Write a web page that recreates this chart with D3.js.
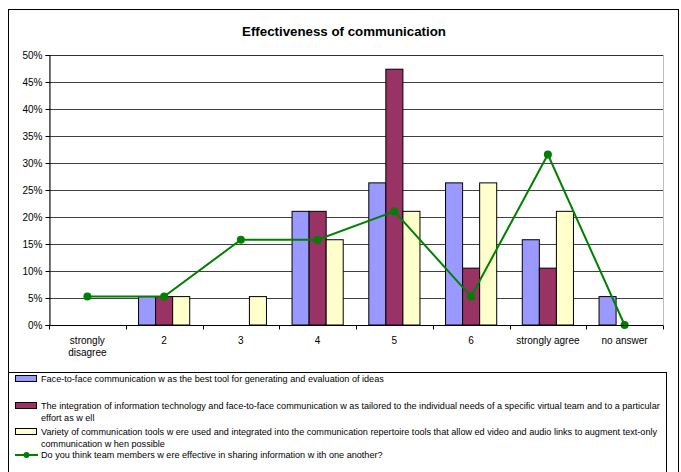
<!DOCTYPE html>
<html>
<head>
<meta charset="utf-8">
<script src="https://cdn.jsdelivr.net/npm/d3@7"></script>
<style>
  body { margin: 0; background: #fff; }
  text { font-family: Arial, "Liberation Sans", sans-serif; fill: #000; }
</style>
</head>
<body>
<div id="chart"></div>
<script>
// categories on the x axis (label lines)
var categories = ["strongly disagree", "2", "3", "4", "5", "6", "strongly agree", "no answer"];
var categoryLines = [["strongly", "disagree"], ["2"], ["3"], ["4"], ["5"], ["6"], ["strongly agree"], ["no answer"]];

// bar series (percent)
var faceToFace = [0, 5.26, 0, 21.05, 26.32, 26.32, 15.79, 5.26];
var integration = [0, 5.26, 0, 21.05, 47.37, 10.53, 10.53, 0];
var variety = [0, 5.26, 5.26, 15.79, 21.05, 26.32, 21.05, 0];
// line series (percent)
var effective = [5.26, 5.26, 15.79, 15.79, 21.05, 5.26, 31.58, 0];

var yTicks = [0, 5, 10, 15, 20, 25, 30, 35, 40, 45, 50];

var legendLines = [
  ["Face-to-face communication w as the best tool for generating and evaluation of ideas"],
  ["The integration of information technology and face-to-face communication w as tailored to the individual needs of a specific virtual team and to a particular",
   "effort as w ell"],
  ["Variety of communication tools w ere used and integrated into the communication repertoire tools that allow ed video and audio links to augment text-only",
   "communication w hen possible"],
  ["Do you think team members w ere effective in sharing information w ith one another?"]
];

var barColors = ["#9999ff", "#993366", "#ffffcc"];
var lineColor = "#008000";

var W = 681, H = 472;
var margin = {top: 55, left: 49, right: 18, bottom: 147};
var width = W - margin.left - margin.right,
  height = H - margin.top - margin.bottom;

var svg = d3.select("#chart").append("svg")
  .attr("width", W)
  .attr("height", H);

// outer chart border
svg.append("rect")
  .attr("x", 8.5).attr("y", 9.5)
  .attr("width", 670).attr("height", 480)
  .attr("fill", "none").attr("stroke", "#000").attr("stroke-width", 1);

// title
svg.append("text")
  .attr("x", 344).attr("y", 36)
  .attr("text-anchor", "middle")
  .style("font-size", "13.3px").style("font-weight", "bold")
  .text("Effectiveness of communication");

var g = svg.append("g")
  .attr("transform", "translate(" + margin.left + "," + margin.top + ")");

var xScale = d3.scaleBand().domain(categories).range([0, width]).paddingInner(0).paddingOuter(0);
var series = [faceToFace, integration, variety];
var xSub = d3.scaleBand().domain(d3.range(series.length)).range([0, xScale.bandwidth()])
  .paddingInner(0).paddingOuter(0.75);
var yScale = d3.scaleLinear().domain([0, 50]).range([height, 0]);

// plot area border (right/top gray)
g.append("rect")
  .attr("x", 0.5).attr("y", 0.5)
  .attr("width", width).attr("height", height)
  .attr("fill", "none").attr("stroke", "#c0c0c0");

// gridlines
g.append("g").selectAll("line")
  .data(yTicks.slice(1))
  .enter().append("line")
  .attr("x1", 0).attr("x2", width)
  .attr("y1", function(d) { return Math.round(yScale(d)) + 0.5; })
  .attr("y2", function(d) { return Math.round(yScale(d)) + 0.5; })
  .attr("stroke", "#000").attr("stroke-width", 1).attr("stroke-opacity", 0.75);

// bars
series.forEach(function(vals, s) {
  g.append("g").selectAll("rect")
    .data(vals)
    .enter().append("rect")
    .attr("x", function(d, i) { return xScale(categories[i]) + xSub(s); })
    .attr("y", function(d) { return yScale(d); })
    .attr("width", xSub.bandwidth())
    .attr("height", function(d) { return height - yScale(d); })
    .attr("fill", barColors[s])
    .attr("stroke", function(d) { return d > 0 ? "#000" : "none"; })
    .attr("stroke-width", 1);
});

// line series
var line = d3.line()
  .x(function(d, i) { return xScale(categories[i]) + xScale.bandwidth() / 2; })
  .y(function(d) { return yScale(d); });

g.append("path")
  .datum(effective)
  .attr("d", line)
  .attr("fill", "none")
  .attr("stroke", lineColor)
  .attr("stroke-width", 2);

g.selectAll(".dot")
  .data(effective)
  .enter().append("circle")
  .attr("class", "dot")
  .attr("cx", function(d, i) { return xScale(categories[i]) + xScale.bandwidth() / 2; })
  .attr("cy", function(d) { return yScale(d); })
  .attr("r", 4)
  .attr("fill", lineColor);

// y axis
var yAxis = g.append("g")
  .attr("transform", "translate(0.5,0)")
  .call(d3.axisLeft(yScale).tickValues(yTicks).tickSize(4).tickPadding(3)
    .tickFormat(function(d) { return d + "%"; }));
yAxis.selectAll("text").style("font-size", "10px").style("font-family", "Arial, 'Liberation Sans', sans-serif");
yAxis.select(".domain").attr("stroke", "#000");

// x axis
var xAxis = g.append("g")
  .attr("transform", "translate(0," + (height + 0.5) + ")");
xAxis.append("line")
  .attr("x1", 0).attr("x2", width)
  .attr("stroke", "#000");
xAxis.selectAll(".tick")
  .data(d3.range(categories.length + 1))
  .enter().append("line")
  .attr("x1", function(i) { return Math.round(i * xScale.step()) + 0.5; })
  .attr("x2", function(i) { return Math.round(i * xScale.step()) + 0.5; })
  .attr("y1", 0).attr("y2", 4)
  .attr("stroke", "#000");
categoryLines.forEach(function(lines, i) {
  var t = xAxis.append("text")
    .attr("x", xScale(categories[i]) + xScale.bandwidth() / 2)
    .attr("y", 18)
    .attr("text-anchor", "middle")
    .style("font-size", "10px");
  lines.forEach(function(l, j) {
    t.append("tspan")
      .attr("x", xScale(categories[i]) + xScale.bandwidth() / 2)
      .attr("dy", j === 0 ? 0 : 12)
      .text(l);
  });
});

// legend
var legend = svg.append("g");
legend.append("rect")
  .attr("x", 8.5).attr("y", 372.5)
  .attr("width", 658).attr("height", 120)
  .attr("fill", "#fff").attr("stroke", "#000");

var legendY = [379, 406, 432, 455];
legendLines.forEach(function(lines, i) {
  var y = legendY[i];
  if (i < 3) {
    legend.append("rect")
      .attr("x", 15.5).attr("y", y - 3.5)
      .attr("width", 21).attr("height", 6)
      .attr("fill", barColors[i]).attr("stroke", "#000");
  } else {
    legend.append("line")
      .attr("x1", 15).attr("x2", 38).attr("y1", y).attr("y2", y)
      .attr("stroke", lineColor).attr("stroke-width", 2);
    legend.append("circle")
      .attr("cx", 26.5).attr("cy", y).attr("r", 3)
      .attr("fill", lineColor);
  }
  lines.forEach(function(l, j) {
    legend.append("text")
      .attr("x", 41)
      .attr("y", y + 3 + j * 12)
      .style("font-size", "9.1px")
      .text(l);
  });
});
</script>
</body>
</html>
